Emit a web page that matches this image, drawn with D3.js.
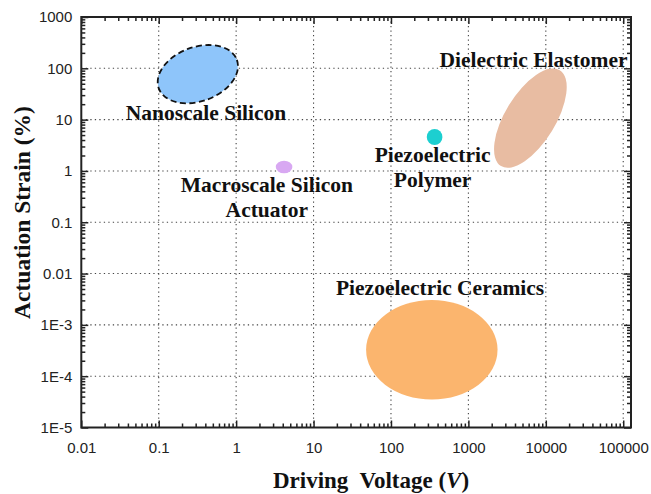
<!DOCTYPE html>
<html>
<head>
<meta charset="utf-8">
<script src="https://cdn.jsdelivr.net/npm/d3@7"></script>
<style>
  html, body { margin: 0; padding: 0; background: #fff; }
  svg { display: block; }
</style>
</head>
<body>
<svg id="chart" width="651" height="494"></svg>
<script>
// Actuator families: driving voltage (V) vs actuation strain (%)
const families = ["Nanoscale Silicon", "Macroscale Silicon Actuator", "Piezoelectric Polymer", "Dielectric Elastomer", "Piezoelectric Ceramics"];
// centre of each region
const voltageCenter = [0.32, 4.16, 366, 6320, 337];
const strainCenter = [77, 1.19, 4.58, 10.7, 3.27e-4];
// semi-axes of each region, in decades (first along voltage, second along strain)
const voltageSpanDecades = [0.537, 0.107, 0.101, 0.726, 0.849];
const strainSpanDecades = [0.528, 0.123, 0.156, 0.489, 0.969];
// tilt of each region (degrees, negative = rising to the right)
const tiltDeg = [-20, 0, 0, -58.5, 0];
const fillColors = ["#8ec5fa", "#d8a8f2", "#1ccfd0", "#e8bca2", "#fbb56e"];

// label lines and their anchors (voltage, strain of first baseline)
const labelLines = [["Nanoscale Silicon"], ["Macroscale Silicon", "Actuator"], ["Piezoelectric", "Polymer"], ["Dielectric Elastomer"], ["Piezoelectric Ceramics"]];
const labelVoltage = [0.408, 2.49, 345, 6950, 431];
const labelStrain = [9.8, 0.394, 1.51, 107, 3.81e-3];

const xTickValues = [0.01, 0.1, 1, 10, 100, 1000, 10000, 100000];
const xTickLabels = ["0.01", "0.1", "1", "10", "100", "1000", "10000", "100000"];
const yTickValues = [1e-5, 1e-4, 1e-3, 0.01, 0.1, 1, 10, 100, 1000];
const yTickLabels = ["1E-5", "1E-4", "1E-3", "0.01", "0.1", "1", "10", "100", "1000"];
const xDomain = [0.01, 126000];
const yDomain = [1e-5, 1000];

const svg = d3.select("#chart");
const plotLeft = 81.3, plotRight = 631, plotTop = 17, plotBottom = 427.5;

const x = d3.scaleLog().domain(xDomain).range([plotLeft, plotRight]);
const y = d3.scaleLog().domain(yDomain).range([plotBottom, plotTop]);

// minor ticks: 2..9 of each decade inside the domain
function minorTicks(domain) {
  const out = [];
  const lo = Math.floor(Math.log10(domain[0])), hi = Math.ceil(Math.log10(domain[1]));
  for (let e = lo; e < hi; e++) {
    for (let m = 2; m <= 9; m++) {
      const v = m * Math.pow(10, e);
      if (v > domain[0] && v < domain[1]) out.push(v);
    }
  }
  return out;
}
const xMinor = minorTicks(xDomain);
const yMinor = minorTicks(yDomain);

// dotted grid at major ticks
const grid = svg.append("g").attr("stroke", "#444").attr("stroke-width", 1.1).attr("stroke-dasharray", "1.3,3.2");
grid.selectAll("line.gx").data(xTickValues.filter(v => v > xDomain[0])).join("line")
  .attr("class", "gx")
  .attr("x1", d => x(d)).attr("x2", d => x(d)).attr("y1", plotTop).attr("y2", plotBottom);
grid.selectAll("line.gy").data(yTickValues.filter(v => v > yDomain[0] && v < yDomain[1])).join("line")
  .attr("class", "gy")
  .attr("x1", plotLeft).attr("x2", plotRight).attr("y1", d => y(d)).attr("y2", d => y(d));

// regions
const regions = svg.append("g");
families.forEach((name, i) => {
  const cx = x(voltageCenter[i]);
  const cy = y(strainCenter[i]);
  const a = x(voltageCenter[i] * Math.pow(10, voltageSpanDecades[i])) - cx;
  const b = cy - y(strainCenter[i] * Math.pow(10, strainSpanDecades[i]));
  const el = regions.append("ellipse")
    .attr("transform", `translate(${cx},${cy}) rotate(${tiltDeg[i]})`)
    .attr("rx", a).attr("ry", b)
    .attr("fill", fillColors[i]);
  if (i === 0) {
    el.attr("stroke", "#111").attr("stroke-width", 1.8).attr("stroke-dasharray", "6,3.5");
  }
});

// region labels
const labels = svg.append("g")
  .attr("font-family", "'Liberation Serif', 'Times New Roman', serif")
  .attr("font-weight", "bold").attr("font-size", 21.5)
  .attr("fill", "#111").attr("text-anchor", "middle");
families.forEach((name, i) => {
  const t = labels.append("text")
    .attr("x", x(labelVoltage[i])).attr("y", y(labelStrain[i]));
  labelLines[i].forEach((line, j) => {
    t.append("tspan").attr("x", x(labelVoltage[i])).attr("dy", j === 0 ? 0 : 25).text(line);
  });
});

// axes
const axisFont = "'Liberation Sans', Arial, sans-serif";
function styleAxis(g) {
  g.select(".domain").remove();
  g.selectAll(".tick line").attr("stroke", "#222").attr("stroke-width", 1.5);
  g.selectAll(".tick text").attr("font-family", axisFont).attr("font-size", 15).attr("fill", "#222");
}

svg.append("g").attr("transform", `translate(0,${plotBottom})`)
  .call(d3.axisBottom(x).tickValues(xTickValues).tickFormat((d, i) => xTickLabels[i]).tickSize(-7).tickPadding(15))
  .call(styleAxis);
svg.append("g").attr("transform", `translate(0,${plotBottom})`)
  .call(d3.axisBottom(x).tickValues(xMinor).tickFormat("").tickSize(-4))
  .call(styleAxis);
svg.append("g").attr("transform", `translate(0,${plotTop})`)
  .call(d3.axisTop(x).tickValues(xTickValues).tickFormat("").tickSize(-7))
  .call(styleAxis);
svg.append("g").attr("transform", `translate(0,${plotTop})`)
  .call(d3.axisTop(x).tickValues(xMinor).tickFormat("").tickSize(-4))
  .call(styleAxis);

svg.append("g").attr("transform", `translate(${plotLeft},0)`)
  .call(d3.axisLeft(y).tickValues(yTickValues).tickFormat((d, i) => yTickLabels[i]).tickSize(-7).tickPadding(9))
  .call(styleAxis);
svg.append("g").attr("transform", `translate(${plotLeft},0)`)
  .call(d3.axisLeft(y).tickValues(yMinor).tickFormat("").tickSize(-4))
  .call(styleAxis);
svg.append("g").attr("transform", `translate(${plotRight},0)`)
  .call(d3.axisRight(y).tickValues(yTickValues).tickFormat("").tickSize(-7))
  .call(styleAxis);
svg.append("g").attr("transform", `translate(${plotRight},0)`)
  .call(d3.axisRight(y).tickValues(yMinor).tickFormat("").tickSize(-4))
  .call(styleAxis);

// frame
svg.append("rect")
  .attr("x", plotLeft).attr("y", plotTop).attr("width", plotRight - plotLeft).attr("height", plotBottom - plotTop)
  .attr("fill", "none").attr("stroke", "#222").attr("stroke-width", 2);

// axis titles
const titleFont = "'Liberation Serif', 'Times New Roman', serif";
const xt = svg.append("text")
  .attr("x", 371).attr("y", 488)
  .attr("text-anchor", "middle")
  .attr("font-family", titleFont).attr("font-weight", "bold").attr("font-size", 23)
  .attr("fill", "#111").style("white-space", "pre");
xt.append("tspan").text("Driving  Voltage (");
xt.append("tspan").attr("font-style", "italic").text("V");
xt.append("tspan").text(")");

svg.append("text")
  .attr("transform", "translate(30,212.5) rotate(-90)")
  .attr("text-anchor", "middle")
  .attr("font-family", titleFont).attr("font-weight", "bold").attr("font-size", 23.5)
  .attr("fill", "#111")
  .text("Actuation Strain (%)");
</script>
</body>
</html>
